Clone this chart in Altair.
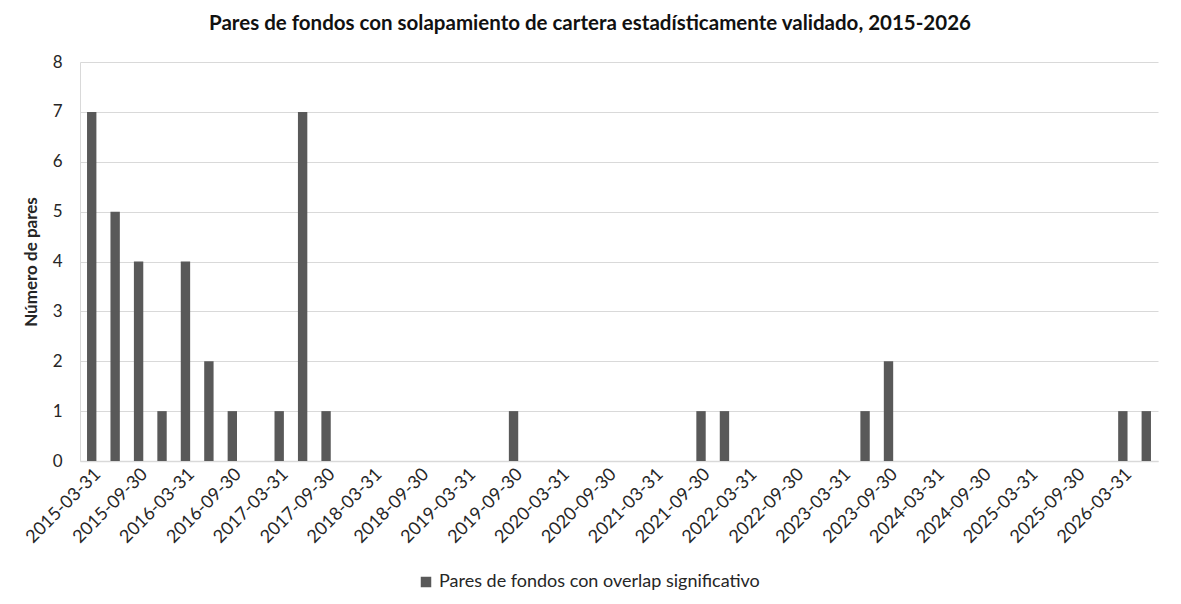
import altair as alt
import pandas as pd

fechas = [
    "2015-03-31", "2015-06-30", "2015-09-30", "2015-12-31",
    "2016-03-31", "2016-06-30", "2016-09-30", "2016-12-31",
    "2017-03-31", "2017-06-30", "2017-09-30", "2017-12-31",
    "2018-03-31", "2018-06-30", "2018-09-30", "2018-12-31",
    "2019-03-31", "2019-06-30", "2019-09-30", "2019-12-31",
    "2020-03-31", "2020-06-30", "2020-09-30", "2020-12-31",
    "2021-03-31", "2021-06-30", "2021-09-30", "2021-12-31",
    "2022-03-31", "2022-06-30", "2022-09-30", "2022-12-31",
    "2023-03-31", "2023-06-30", "2023-09-30", "2023-12-31",
    "2024-03-31", "2024-06-30", "2024-09-30", "2024-12-31",
    "2025-03-31", "2025-06-30", "2025-09-30", "2025-12-31",
    "2026-03-31", "2026-06-30",
]
pares = [
    7, 5, 4, 1,
    4, 2, 1, 0,
    1, 7, 1, 0,
    0, 0, 0, 0,
    0, 0, 1, 0,
    0, 0, 0, 0,
    0, 0, 1, 1,
    0, 0, 0, 0,
    0, 1, 2, 0,
    0, 0, 0, 0,
    0, 0, 0, 0,
    1, 1,
]
etiquetas_x = fechas[::2]
serie = "Pares de fondos con overlap significativo"
titulo = "Pares de fondos con solapamiento de cartera estadísticamente validado, 2015-2026"
titulo_y = "Número de pares"

df = pd.DataFrame({"fecha": fechas, "pares": pares, "serie": [serie] * len(fechas)})

FONT = "Lato"
TXT = "#262626"

chart = alt.Chart(df).mark_bar().encode(
    x=alt.X(
        "fecha:N", sort=None,
        scale=alt.Scale(paddingInner=0.6, paddingOuter=0.3),
        axis=alt.Axis(values=etiquetas_x, labelAngle=-45, title=None, ticks=False,
                      domainColor="#d9d9d9", domainWidth=1.5, labelFontSize=18,
                      labelColor=TXT, labelFont=FONT, labelPadding=4),
    ),
    y=alt.Y(
        "pares:Q", scale=alt.Scale(domain=[0, 8], nice=False),
        axis=alt.Axis(values=list(range(9)), title=titulo_y, ticks=False,
                      domainColor="#d9d9d9", gridColor="#d9d9d9", gridWidth=1,
                      labelFontSize=17, labelColor=TXT, labelFont=FONT, labelPadding=18,
                      titleFont=FONT, titleFontSize=17, titleFontWeight="bold",
                      titleColor=TXT, titlePadding=12),
    ),
    color=alt.Color(
        "serie:N", scale=alt.Scale(range=["#595959"]),
        legend=alt.Legend(title=None, orient="none", legendX=337, legendY=511,
                          symbolType="square", symbolSize=110, symbolStrokeWidth=0,
                          labelFontSize=18, labelFont=FONT, labelColor=TXT,
                          labelLimit=0),
    ),
).properties(
    width=1078, height=399,
    title=alt.TitleParams(titulo, anchor="middle", dx=-29, offset=19, font=FONT,
                          fontSize=20.5, fontWeight="bold", color="#111"),
    autosize=alt.AutoSizeParams(type="none"),
    padding={"left": 72, "top": 54, "right": 15, "bottom": 135},
).configure_view(stroke=None)

chart.save("out.html", embed_options={"renderer": "svg", "actions": False})
